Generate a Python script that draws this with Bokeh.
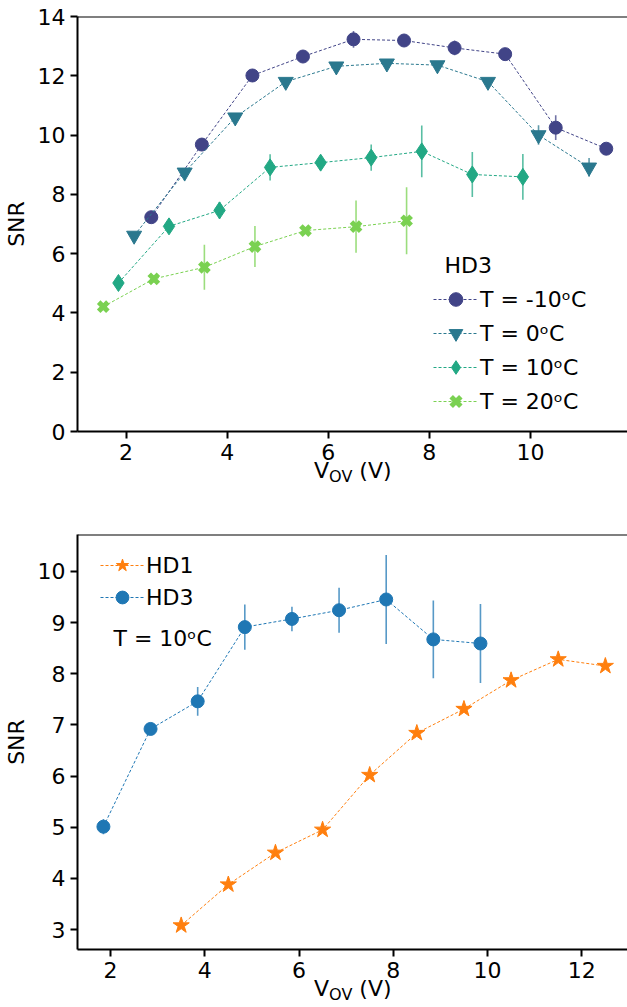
from bokeh.plotting import figure
from bokeh.models import (Range1d, Span, Label, Legend, LegendItem, Div,
                          ColumnDataSource, FixedTicker)
from bokeh.layouts import column
from bokeh.embed import file_html
from bokeh.resources import INLINE

FONT = "DejaVu Sans"

# ---- HD3 SNR versus overvoltage at four temperatures ----
temp_labels = ["T = -10ᵒC", "T = 0ᵒC", "T = 10ᵒC", "T = 20ᵒC"]
temp_colors = ["#414487", "#2a788e", "#22a884", "#7ad151"]

vov_m10 = [2.5, 3.5, 4.5, 5.5, 6.5, 7.5, 8.5, 9.5, 10.5, 11.5]
snr_m10 = [7.23, 9.68, 12.01, 12.65, 13.23, 13.19, 12.94, 12.73, 10.25, 9.54]
err_m10 = [0.10, 0.10, 0.10, 0.10, 0.28, 0.10, 0.25, 0.15, 0.42, 0.10]

vov_0 = [2.16, 3.16, 4.16, 5.16, 6.16, 7.16, 8.16, 9.16, 10.16, 11.16]
snr_0 = [6.61, 8.74, 10.60, 11.80, 12.32, 12.42, 12.36, 11.80, 10.00, 8.91]
err_0 = [0.10, 0.10, 0.10, 0.10, 0.10, 0.10, 0.10, 0.12, 0.33, 0.32]

vov_10 = [1.85, 2.85, 3.85, 4.85, 5.85, 6.85, 7.85, 8.85, 9.85]
snr_10 = [5.01, 6.92, 7.46, 8.91, 9.07, 9.24, 9.45, 8.67, 8.59]
err_10 = [0.15, 0.12, 0.28, 0.44, 0.24, 0.44, 0.87, 0.76, 0.77]

vov_20 = [1.55, 2.55, 3.55, 4.55, 5.55, 6.55, 7.55]
snr_20 = [4.21, 5.15, 5.54, 6.24, 6.78, 6.91, 7.11]
err_20 = [0.10, 0.12, 0.76, 0.69, 0.10, 0.88, 1.13]

# ---- HD1 vs HD3 at 10 degC ----
vov_hd1 = [3.5, 4.5, 5.5, 6.5, 7.5, 8.5, 9.5, 10.5, 11.5, 12.5]
snr_hd1 = [3.08, 3.88, 4.50, 4.95, 6.02, 6.84, 7.31, 7.87, 8.28, 8.15]
err_hd1 = [0.05, 0.05, 0.05, 0.05, 0.05, 0.05, 0.05, 0.05, 0.05, 0.05]

top_xticks = [2, 4, 6, 8, 10]
top_yticks = [0, 2, 4, 6, 8, 10, 12, 14]
bot_xticks = [2, 4, 6, 8, 10, 12]
bot_yticks = [3, 4, 5, 6, 7, 8, 9, 10]

XLABEL_HTML = (
    '<div style="font-family:\'DejaVu Sans\';font-size:22px;line-height:22px;'
    'color:black;white-space:nowrap;padding-left:314px;">'
    'V<span style="font-size:16px;position:relative;top:4px;">OV</span> (V)</div>'
)


def style(p, xticks, yticks):
    for ax in (p.xaxis[0], p.yaxis[0]):
        ax.axis_line_width = 2
        ax.axis_line_color = "black"
        ax.major_tick_line_width = 2
        ax.major_tick_line_color = "black"
        ax.major_tick_out = 7
        ax.major_tick_in = 0
        ax.minor_tick_line_color = None
        ax.major_label_text_font = FONT
        ax.major_label_text_font_size = "22px"
        ax.major_label_text_color = "black"
        ax.major_label_standoff = 5
    p.xaxis[0].ticker = FixedTicker(ticks=xticks)
    p.yaxis[0].ticker = FixedTicker(ticks=yticks)
    p.yaxis[0].axis_label = "SNR"
    p.yaxis[0].axis_label_text_font = FONT
    p.yaxis[0].axis_label_text_font_size = "22px"
    p.yaxis[0].axis_label_text_font_style = "normal"
    p.yaxis[0].axis_label_text_color = "black"
    p.yaxis[0].axis_label_standoff = 6
    p.xgrid.visible = False
    p.ygrid.visible = False
    p.outline_line_color = None
    p.background_fill_color = "white"
    p.border_fill_color = "white"
    # upper frame edge
    p.add_layout(Span(location=p.y_range.end, dimension="width",
                      line_color="black", line_width=2))


def series(p, x, y, e, color, marker, size, label, line_width=1.0):
    src = ColumnDataSource(dict(x=x, y=y,
                                lo=[a - b for a, b in zip(y, e)],
                                hi=[a + b for a, b in zip(y, e)]))
    ln = p.line("x", "y", source=src, line_color=color, line_width=1,
                line_dash="3 2")
    p.segment(x0="x", y0="lo", x1="x", y1="hi", source=src, line_color=color,
              line_width=1.6, line_alpha=0.75)
    mk = p.scatter("x", "y", source=src, marker=marker, size=size,
                   fill_color=color, line_color=color, line_width=line_width)
    return LegendItem(label=label, renderers=[ln, mk])


def legend(items, loc, gh, gw):
    return Legend(items=items, location=loc, border_line_color=None,
                  background_fill_alpha=0, padding=0, margin=0, spacing=0,
                  glyph_width=gw, glyph_height=gh, label_height=gh, label_standoff=2,
                  label_text_font=FONT, label_text_font_size="22px",
                  label_text_color="black")


# ---------------- top panel ----------------
p1 = figure(width=627, height=471, x_range=Range1d(1.04, 11.92),
            y_range=Range1d(0, 14), min_border_left=76, min_border_right=0,
            min_border_top=16, min_border_bottom=40,
            output_backend="svg", toolbar_location=None)
style(p1, top_xticks, top_yticks)

items1 = [
    series(p1, vov_m10, snr_m10, err_m10, temp_colors[0], "circle", 13, temp_labels[0]),
    series(p1, vov_0, snr_0, err_0, temp_colors[1], "inverted_triangle", 15, temp_labels[1]),
    series(p1, vov_10, snr_10, err_10, temp_colors[2], "diamond", 17, temp_labels[2]),
    series(p1, vov_20, snr_20, err_20, temp_colors[3], "x", 13, temp_labels[3],
           line_width=5),
]
p1.add_layout(legend(items1, (356, 13), 34, 45))
p1.add_layout(Label(x=367, y=166, x_units="screen", y_units="screen", text="HD3",
                    text_font=FONT, text_font_size="22px", text_color="black",
                    text_baseline="alphabetic"))
xl1 = Div(text=XLABEL_HTML, width=627, height=33, margin=(-11, 0, 0, 0))

# ---------------- bottom panel ----------------
p2 = figure(width=627, height=496, x_range=Range1d(1.30, 12.97),
            y_range=Range1d(2.61, 10.72), min_border_left=76, min_border_right=0,
            min_border_top=41, min_border_bottom=40,
            output_backend="svg", toolbar_location=None)
style(p2, bot_xticks, bot_yticks)

items2 = [
    series(p2, vov_hd1, snr_hd1, err_hd1, "#ff7f0e", "star", 17, "HD1"),
    series(p2, vov_10, snr_10, err_10, "#1f77b4", "circle", 13, "HD3"),
]
p2.add_layout(legend(items2, (23, 336), 32, 44))
p2.add_layout(Label(x=36, y=311, x_units="screen", y_units="screen", text="T = 10ᵒC",
                    text_font=FONT, text_font_size="22px", text_color="black",
                    text_baseline="alphabetic"))
xl2 = Div(text=XLABEL_HTML, width=627, height=28, margin=(-11, 0, 0, 0))

layout = column(p1, xl1, p2, xl2, spacing=0)
open("out.html", "w").write(file_html(layout, INLINE))
